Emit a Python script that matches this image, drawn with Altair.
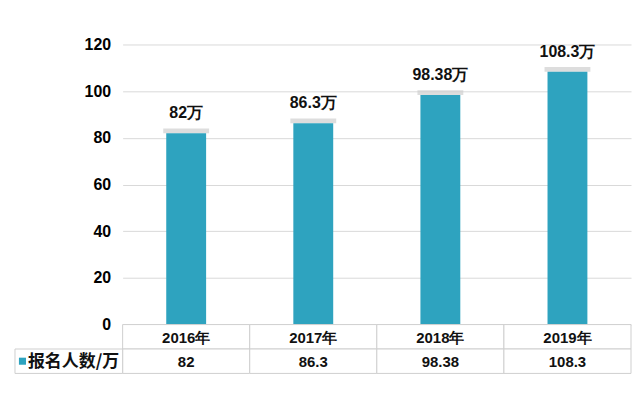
import altair as alt
import pandas as pd

years = ["2016年", "2017年", "2018年", "2019年"]
values = [82, 86.3, 98.38, 108.3]
value_text = ["82", "86.3", "98.38", "108.3"]
series_name = "报名人数/万"
y_ticks = [0, 20, 40, 60, 80, 100, 120]

BAR = "#2ea3bf"
GRID = "#d9d9d9"
NUM_FONT = "Liberation Sans"
CJK_FONT = "Noto Sans CJK SC"

df = pd.DataFrame({
    "year": years,
    "value": values,
    "label": [t + "万" for t in value_text],
})
df["top"] = df["value"] + 2.0

xenc = alt.X("year:N", sort=years, scale=alt.Scale(paddingInner=0, paddingOuter=0), axis=None)
base = alt.Chart(df).encode(x=xenc)

shadow = base.mark_bar(size=46, color="#cfcfcf", opacity=0.7).encode(
    y=alt.Y("value:Q"), y2="top:Q")
bars = base.mark_bar(size=40, color=BAR).encode(
    y=alt.Y("value:Q", scale=alt.Scale(domain=[0, 120], nice=False),
            axis=alt.Axis(values=y_ticks, grid=True, gridColor=GRID, domain=False, ticks=False,
                          labelPadding=12, labelFont=NUM_FONT, labelFontWeight="bold",
                          labelFontSize=16, labelColor="#000000", title=None)))
labels = base.mark_text(dy=-20, baseline="middle", font=NUM_FONT, fontWeight="bold",
                        fontSize=16, color="#111111").encode(y="value:Q", text="label:N")

top = alt.layer(shadow, bars, labels).properties(width=510, height=281)

rows = ["header", "data"]
cells = pd.DataFrame({
    "year": years + years,
    "row": ["header"] * 4 + ["data"] * 4,
    "txt": years + value_text,
})
row_df = pd.DataFrame({"row": ["data"], "name": [series_name]})

yenc = alt.Y("row:N", sort=rows, scale=alt.Scale(paddingInner=0, paddingOuter=0), axis=None)
xenc2 = alt.X("year:N", sort=years, scale=alt.Scale(paddingInner=0, paddingOuter=0), axis=None)

cell_rect = alt.Chart(cells).mark_rect(fill="white", stroke="#cfcfcf", strokeWidth=1).encode(
    x=xenc2, y=yenc)
cell_text = alt.Chart(cells).mark_text(font=NUM_FONT, fontWeight="bold", fontSize=15,
                                       color="#111111", dy=1).encode(x=xenc2, y=yenc, text="txt:N")
name_rect = alt.Chart(row_df).mark_rect(fill="white", stroke="#cfcfcf", strokeWidth=1).encode(
    x=alt.value(-108), x2=alt.value(0), y=yenc)
name_sq = alt.Chart(row_df).mark_square(size=50, color=BAR, opacity=1).encode(
    x=alt.value(-100.5), y=yenc)
name_text = alt.Chart(row_df).mark_text(font=CJK_FONT, fontWeight="bold", fontSize=17,
                                        color="#111111", align="left", dy=1).encode(
    x=alt.value(-95), y=yenc, text="name:N")

table = alt.layer(cell_rect, cell_text, name_rect, name_sq, name_text).properties(width=510, height=49)

chart = alt.vconcat(top, table, spacing=0, bounds="flush").properties(
    padding={"left": 6, "top": 28, "right": 0, "bottom": 0},
    background="white",
).configure_view(stroke=None)

chart.save("out.html", embed_options={"renderer": "svg", "actions": False})
